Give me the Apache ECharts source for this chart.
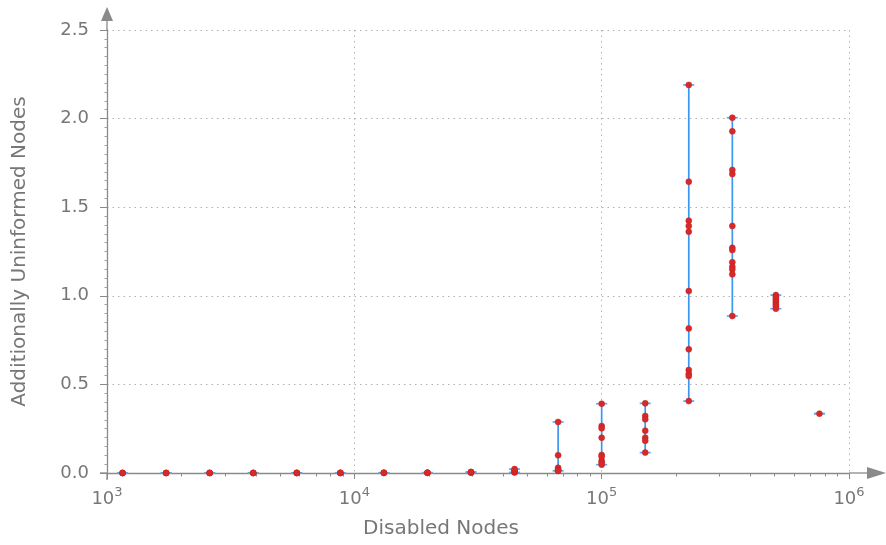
<!DOCTYPE html>
<html>
<head>
<meta charset="utf-8">
<script src="https://cdn.jsdelivr.net/npm/echarts@6/dist/echarts.min.js"></script>
<style>html,body{margin:0;padding:0;background:#fff}#c{width:886px;height:545px}</style>
</head>
<body>
<div id="c"></div>
<script>
// ---- data ----
const disabledNodes = [1156, 1734, 2601, 3902, 5853, 8779, 13169, 19753, 29630, 44444, 66667, 100000, 150000, 225000, 337500, 506250, 759375];
const uninformed = [
  [0, 0.0003, 0.0005],
  [0, 0.0003, 0.0005],
  [0, 0.0004, 0.0006],
  [0, 0.0004, 0.0007],
  [0, 0.0005, 0.0008],
  [0, 0.0006, 0.001],
  [0.0005, 0.001, 0.0015],
  [0.001, 0.0015, 0.002],
  [0.002, 0.004, 0.005, 0.006],
  [0.003, 0.006, 0.01, 0.015, 0.022],
  [0.288, 0.1, 0.03, 0.02, 0.017, 0.013, 0.012],
  [0.391, 0.265, 0.252, 0.199, 0.102, 0.092, 0.069, 0.058, 0.047],
  [0.393, 0.322, 0.303, 0.239, 0.199, 0.182, 0.115],
  [2.19, 1.644, 1.424, 1.394, 1.362, 1.027, 0.816, 0.698, 0.581, 0.559, 0.547, 0.406],
  [2.005, 1.928, 1.71, 1.687, 1.394, 1.271, 1.258, 1.189, 1.164, 1.149, 1.121, 0.886],
  [1.004, 0.99, 0.98, 0.97, 0.96, 0.95, 0.94, 0.927],
  [0.335]
];
const xMajorTicks = [1000, 10000, 100000, 1000000];
const xMinorTicks = [2000,3000,4000,5000,6000,7000,8000,9000,20000,30000,40000,50000,60000,70000,80000,90000,200000,300000,400000,500000,600000,700000,800000,900000];
const yTicks = [0, 0.5, 1.0, 1.5, 2.0, 2.5];

// ---- derived ----
const points = [];
const bars = [];
disabledNodes.forEach((x, i) => {
  const ys = uninformed[i];
  ys.forEach(y => points.push([x, y]));
  bars.push([x, Math.min.apply(null, ys), Math.max.apply(null, ys)]);
});

const G = {left: 107, right: 37, top: 30, bottom: 72};
const W = 886, H = 545;
const axisColor = '#8a8a8a';
const textColor = '#777777';
const font = 'DejaVu Sans';

const chart = echarts.init(document.getElementById('c'), null, {renderer: 'canvas'});
chart.setOption({
  animation: false,
  backgroundColor: '#fff',
  grid: {left: G.left, right: G.right, top: G.top, bottom: G.bottom, containLabel: false, outerBoundsMode: 'none'},
  xAxis: [{
    type: 'log', logBase: 10, min: 1000, max: 1000000,
    name: 'Disabled Nodes', nameLocation: 'middle', nameGap: 46,
    nameTextStyle: {fontFamily: font, fontSize: 20, color: textColor, padding: [0, 74, 0, 0]},
    axisLine: {show: true, onZero: false, lineStyle: {color: axisColor, width: 1.3}},
    axisTick: {show: true, inside: false, length: 6, lineStyle: {color: axisColor}, customValues: xMajorTicks},
    minorTick: {show: false},
    splitLine: {show: true, lineStyle: {color: '#b0b0b0', type: [1.5, 4], width: 1}},
    axisLabel: {
      margin: 13, customValues: xMajorTicks,
      formatter: v => '{b|10}{s|' + Math.round(Math.log10(v)) + '}',
      rich: {
        b: {fontFamily: font, fontSize: 18, color: textColor},
        s: {fontFamily: font, fontSize: 13, color: textColor, padding: [0, 0, 13, 0]}
      }
    }
  }, {
    type: 'log', logBase: 10, min: 1000, max: 1000000, position: 'bottom',
    axisLine: {show: false},
    axisTick: {show: true, inside: false, length: 3.5, lineStyle: {color: axisColor}, customValues: xMinorTicks},
    axisLabel: {show: false},
    splitLine: {show: false}
  }],
  yAxis: {
    type: 'value', min: 0, max: 2.5, interval: 0.5,
    name: 'Additionally Uninformed Nodes', nameLocation: 'middle', nameGap: 77,
    nameTextStyle: {fontFamily: font, fontSize: 20, color: textColor},
    axisLine: {show: true, onZero: false, lineStyle: {color: axisColor, width: 1.3}},
    axisTick: {show: true, length: 7, lineStyle: {color: axisColor}},
    minorTick: {show: true, splitNumber: 10, length: 2.5, lineStyle: {color: '#a0a0a0'}},
    splitLine: {show: true, lineStyle: {color: '#b0b0b0', type: [1.5, 4], width: 1}},
    axisLabel: {margin: 18, fontFamily: font, fontSize: 18, color: textColor, formatter: v => v.toFixed(1)}
  },
  series: [{
    type: 'custom',
    xAxisIndex: 0,
    data: bars,
    z: 3,
    renderItem: function (params, api) {
      const x = api.value(0);
      const lo = api.coord([x, api.value(1)]);
      const hi = api.coord([x, api.value(2)]);
      const cap = 5.5;
      const style = {stroke: '#3a97f0', lineWidth: 1.7};
      return {
        type: 'group',
        children: [
          {type: 'line', shape: {x1: lo[0], y1: lo[1], x2: hi[0], y2: hi[1]}, style: style},
          {type: 'line', shape: {x1: lo[0] - cap, y1: lo[1], x2: lo[0] + cap, y2: lo[1]}, style: {stroke: '#5aabf5', lineWidth: 1.7}},
          {type: 'line', shape: {x1: hi[0] - cap, y1: hi[1], x2: hi[0] + cap, y2: hi[1]}, style: {stroke: '#5aabf5', lineWidth: 1.7}}
        ]
      };
    }
  }, {
    type: 'scatter',
    xAxisIndex: 0,
    data: points,
    symbol: 'circle',
    symbolSize: 6,
    z: 4,
    itemStyle: {color: '#d62a2a', borderColor: '#c81e1e', borderWidth: 0.5, opacity: 1}
  }],
  graphic: [
    // axis extensions and arrows
    {type: 'line', shape: {x1: W - G.right, y1: H - G.bottom, x2: 870, y2: H - G.bottom}, style: {stroke: axisColor, lineWidth: 1.3}, silent: true},
    {type: 'polygon', shape: {points: [[867, H - G.bottom - 6], [886, H - G.bottom], [867, H - G.bottom + 6]]}, style: {fill: axisColor}, silent: true},
    {type: 'line', shape: {x1: 100, y1: H - G.bottom, x2: G.left, y2: H - G.bottom}, style: {stroke: axisColor, lineWidth: 1.3}, silent: true},
    {type: 'line', shape: {x1: G.left, y1: G.top, x2: G.left, y2: 20}, style: {stroke: axisColor, lineWidth: 1.3}, silent: true},
    {type: 'polygon', shape: {points: [[G.left - 6, 21], [G.left, 7], [G.left + 6, 21]]}, style: {fill: axisColor}, silent: true},
    {type: 'line', shape: {x1: G.left, y1: H - G.bottom, x2: G.left, y2: H - G.bottom + 7}, style: {stroke: axisColor, lineWidth: 1.3}, silent: true}
  ]
});
</script>
</body>
</html>
